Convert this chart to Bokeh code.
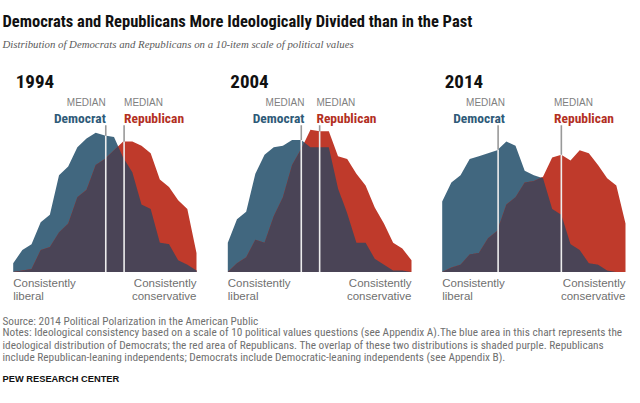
import numpy as np
from bokeh.plotting import figure
from bokeh.models import Range1d, Label
from bokeh.layouts import column, row
from bokeh.embed import file_html
from bokeh.resources import INLINE

# ---------------- data (percent of party at each point of the -10..+10 scale) -------------
scale = list(range(-10, 11))
years = ["1994", "2004", "2014"]
dem_1994 = [0.6, 1.5, 1.9, 3.4, 3.9, 6.6, 7.2, 8.5, 9.1, 9.5, 9.3, 9.2, 7.8, 6.8, 4.6, 4.3, 2.0, 1.9, 0.8, 0.5, 0.1]
rep_1994 = [0.0, 0.1, 0.2, 1.5, 1.7, 2.7, 3.3, 5.1, 5.6, 7.3, 7.7, 8.3, 8.9, 8.9, 8.6, 8.1, 6.3, 5.8, 4.9, 4.3, 1.3]
dem_2004 = [2.0, 3.6, 4.1, 6.7, 8.0, 8.5, 8.6, 9.0, 9.0, 8.5, 8.5, 8.5, 5.7, 4.0, 2.0, 2.0, 0.9, 0.5, 0.1, 0.1, 0.0]
rep_2004 = [0.0, 0.6, 1.0, 2.2, 2.0, 3.8, 5.1, 7.3, 8.4, 9.7, 9.6, 9.6, 7.9, 7.7, 6.7, 5.9, 4.4, 3.3, 2.0, 1.6, 0.8]
dem_2014 = [4.8, 6.1, 6.6, 7.7, 7.9, 8.1, 8.3, 8.9, 8.6, 6.9, 6.6, 6.4, 4.3, 3.9, 1.9, 1.5, 0.6, 0.5, 0.1, 0.0, 0.0]
rep_2014 = [0.0, 0.3, 0.5, 1.2, 1.3, 2.3, 2.8, 4.6, 5.1, 6.1, 6.2, 6.5, 7.8, 8.0, 7.6, 8.3, 8.1, 7.3, 6.4, 5.9, 3.3]
median_dem = [0.1, -2.0, -3.9]
median_rep = [2.1, 0.0, 3.0]

title_text = "Democrats and Republicans More Ideologically Divided than in the Past"
subtitle_text = "Distribution of Democrats and Republicans on a 10-item scale of political values"
source_text = "Source: 2014 Political Polarization in the American Public"
notes_lines = [
    "Notes: Ideological consistency based on a scale of 10 political values questions (see Appendix A).The blue area in this chart represents the",
    "ideological distribution of Democrats; the red area of Republicans. The overlap of these two distributions is shaded purple. Republicans",
    "include Republican-leaning independents; Democrats include Democratic-leaning independents (see Appendix B).",
]
credit_text = "PEW RESEARCH CENTER"

# ---------------- styles -------------
BLUE = "#41677f"
RED = "#bf3a2b"
PURPLE = "#4a4456"
DEM_TXT = "#2e5a78"
REP_TXT = "#b3301f"
GRAY_TXT = "#707070"
COND = "Roboto Condensed"
SANS = "Liberation Sans"

W = 640
HEAD_H, PANEL_H, NOTES_H = 58, 247, 98
PX_PER_UNIT = 44.0 / 3.0
BASE_Y = 271.5 - HEAD_H          # baseline, px from top of the panel figure
LINE_TOP = 10.0
DY = 4.5                         # empirical text baseline correction (px)


def blank(width, height, xr, yr):
    f = figure(width=width, height=height, x_range=xr, y_range=yr,
               output_backend="svg", toolbar_location=None,
               x_axis_location=None, y_axis_location=None,
               min_border=0, outline_line_color=None)
    f.grid.visible = False
    f.background_fill_color = "white"
    f.border_fill_color = "white"
    return f


def lab(f, x, y, text, size, color, font=SANS, style="normal", align="left"):
    f.add_layout(Label(x=x, y=y, text=text, text_font=font, text_font_size=size,
                       text_color=color, text_font_style=style, text_align=align,
                       text_baseline="alphabetic"))


# ---------------- header -------------
head = blank(W, HEAD_H, Range1d(0, W), Range1d(HEAD_H, 0))
lab(head, 2, 24 - 3, title_text, "16.5px", "#111111", font=COND, style="bold")
lab(head, 2, 46.5 - 3, subtitle_text, "10.8px", "#5a5a5a", font="Liberation Serif", style="italic")

# ---------------- panels -------------
panel_px = [(0, 213, 12.7, 196.0), (213, 214, 14.3, 198.0), (427, 213, 14.7, 198.0)]
dems = [dem_1994, dem_2004, dem_2014]
reps = [rep_1994, rep_2004, rep_2014]
dem_lab_x = [0.1, -1.65, -3.15]
rep_lab_x = [2.1, -0.35, 2.2]

panels = []
for k in range(3):
    x0, w, left, right = panel_px[k]
    ppu = (right - left) / 20.0
    xs = -10 - left / ppu
    xr = Range1d(xs, xs + w / ppu)
    yr = Range1d(-(PANEL_H - BASE_Y) / PX_PER_UNIT, BASE_Y / PX_PER_UNIT)
    f = blank(w, PANEL_H, xr, yr)
    dem = np.array(dems[k], dtype=float)
    rep = np.array(reps[k], dtype=float)
    f.varea(x=scale, y1=0, y2=dem, fill_color=BLUE)
    f.varea(x=scale, y1=0, y2=rep, fill_color=RED)
    xf = np.linspace(-10, 10, 2001)
    ov = np.minimum(np.interp(xf, scale, dem), np.interp(xf, scale, rep))
    f.varea(x=xf, y1=0, y2=ov, fill_color=PURPLE)
    for m in (median_dem[k], median_rep[k]):
        top = max(np.interp(m, scale, dem), np.interp(m, scale, rep))
        f.segment(x0=[m], y0=[0], x1=[m], y1=[top], line_color="#eeeeee", line_width=1.6)
        f.segment(x0=[m], y0=[top], x1=[m], y1=[LINE_TOP], line_color="#999999", line_width=1.6)
    # texts
    yv = lambda py: (271.5 - py) / PX_PER_UNIT
    lab(f, -10 + 2.5 / ppu, yv(86 - 5.5), years[k], "19px", "#111111", font=COND, style="bold")
    lab(f, dem_lab_x[k], yv(106.7 - DY), "MEDIAN", "10px", "#808080", align="right")
    lab(f, dem_lab_x[k], yv(121.7 - DY), "Democrat", "13.5px", DEM_TXT, font=COND, style="bold", align="right")
    lab(f, rep_lab_x[k], yv(106.7 - DY), "MEDIAN", "10px", "#808080")
    lab(f, rep_lab_x[k], yv(121.7 - DY), "Republican", "13.5px", REP_TXT, font=COND, style="bold")
    lab(f, -10, yv(286.7 - DY), "Consistently", "11.5px", GRAY_TXT)
    lab(f, -10, yv(299.5 - DY), "liberal", "11.5px", GRAY_TXT)
    lab(f, 10, yv(286.7 - DY), "Consistently", "11.5px", GRAY_TXT, align="right")
    lab(f, 10, yv(299.5 - DY), "conservative", "11.5px", GRAY_TXT, align="right")
    panels.append(f)

# ---------------- notes -------------
notes = blank(W, NOTES_H, Range1d(0, W), Range1d(NOTES_H, 0))
top0 = HEAD_H + PANEL_H
note_base = [336.7, 349.0, 361.2]
lab(notes, 2, 325 - DY - top0, source_text, "11.3px", GRAY_TXT, font=COND)
for j, line in enumerate(notes_lines):
    lab(notes, 2, note_base[j] - DY - top0, line, "11.3px", GRAY_TXT, font=COND)
lab(notes, 2, 382.7 - DY - top0, credit_text, "9.3px", "#111111", font=SANS, style="bold")

p = column(head, row(*panels, spacing=0), notes, spacing=0)

open("out.html", "w").write(file_html(p, INLINE))
